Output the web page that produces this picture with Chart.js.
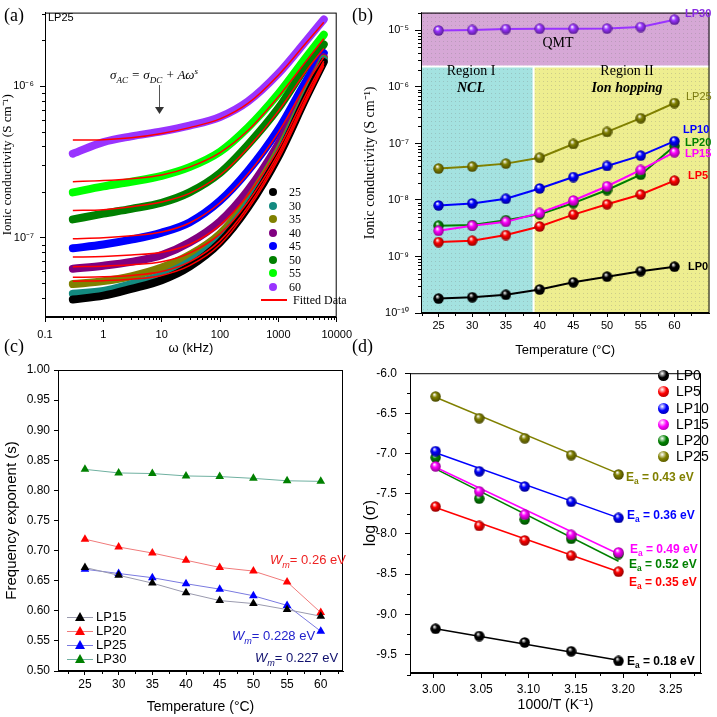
<!DOCTYPE html>
<html>
<head>
<meta charset="utf-8">
<script src="https://cdn.jsdelivr.net/npm/chart.js@4.4.1/dist/chart.umd.min.js"></script>
<style>
body { margin: 0; background: #fff; }
#wrap { position: relative; width: 717px; height: 717px; overflow: hidden; font-family: "Liberation Sans", Arial, sans-serif; color: #000; }
canvas { position: absolute; }
.t { position: absolute; white-space: nowrap; line-height: 1; }
.serif { font-family: "Liberation Serif", "Times New Roman", serif; }
.dot { position: absolute; width: 8px; height: 8px; border-radius: 50%; }
.ball { position: absolute; width: 11px; height: 11px; border-radius: 50%; }
.tri { position: absolute; width: 10px; height: 9px; clip-path: polygon(50% 0, 100% 100%, 0 100%); }
.ln { position: absolute; height: 1px; }
sub, sup { font-size: 70%; }
</style>
</head>
<body>
<div id="wrap">
  <canvas id="cA" width="358" height="358" style="left:0;top:0"></canvas>
  <canvas id="cB" width="359" height="358" style="left:358px;top:0"></canvas>
  <canvas id="cC" width="358" height="359" style="left:0;top:358px"></canvas>
  <canvas id="cD" width="359" height="359" style="left:358px;top:358px"></canvas>

  <!-- panel letters -->
  <div class="t serif" style="left:4px;top:6px;font-size:18px">(a)</div>
  <div class="t serif" style="left:352px;top:6px;font-size:18px">(b)</div>
  <div class="t serif" style="left:4px;top:337px;font-size:18px">(c)</div>
  <div class="t serif" style="left:352px;top:337px;font-size:18px">(d)</div>

  <!-- (a) annotations -->
  <div class="t" style="left:48px;top:12px;font-size:11px">LP25</div>
  <div class="t serif" style="left:110px;top:67px;font-size:13px;font-style:italic">σ<sub>AC</sub> = σ<sub>DC</sub> + Aω<sup>s</sup></div>
  <div style="position:absolute;left:159px;top:85px;width:1px;height:24px;background:#555"></div>
  <div style="position:absolute;left:155px;top:107px;width:9px;height:7px;background:#333;clip-path:polygon(0 0,100% 0,50% 100%)"></div>
  <div id="legA"></div>

  <!-- (b) annotations -->
  <div class="t serif" style="left:558px;top:36px;font-size:14px;transform:translateX(-50%)">QMT</div>
  <div class="t serif" style="left:471px;top:64px;font-size:14px;transform:translateX(-50%)">Region I</div>
  <div class="t serif" style="left:471px;top:81px;font-size:14px;font-weight:bold;font-style:italic;transform:translateX(-50%)">NCL</div>
  <div class="t serif" style="left:627px;top:64px;font-size:14px;transform:translateX(-50%)">Region II</div>
  <div class="t serif" style="left:627px;top:81px;font-size:14px;font-weight:bold;font-style:italic;transform:translateX(-50%)">Ion hopping</div>
  <div class="t" style="left:685px;top:8px;font-size:11px;font-weight:bold;color:#8a2be2">LP30</div>
  <div class="t" style="left:686px;top:91px;font-size:11px;color:#7a7a10">LP25</div>
  <div class="t" style="left:683px;top:124px;font-size:11px;font-weight:bold;color:#0000ff">LP10</div>
  <div class="t" style="left:685px;top:137px;font-size:11px;font-weight:bold;color:#008000">LP20</div>
  <div class="t" style="left:685px;top:148px;font-size:11px;font-weight:bold;color:#ff00ff">LP15</div>
  <div class="t" style="left:688px;top:170px;font-size:11px;font-weight:bold;color:#ff0000">LP5</div>
  <div class="t" style="left:688px;top:261px;font-size:11px;font-weight:bold;color:#000">LP0</div>

  <!-- (c) annotations -->
  <div id="legC"></div>
  <div class="t" style="left:270px;top:553px;font-size:13px;color:#ee2222"><i>W<sub>m</sub></i>= 0.26 eV</div>
  <div class="t" style="left:232px;top:629px;font-size:13px;color:#2222cc"><i>W<sub>m</sub></i>= 0.228 eV</div>
  <div class="t" style="left:255px;top:651px;font-size:13px;color:#10106e"><i>W<sub>m</sub></i>= 0.227 eV</div>

  <!-- (d) annotations -->
  <div id="legD"></div>
  <div class="t" style="left:626px;top:471px;font-size:12px;font-weight:bold;color:#808000">E<sub>a</sub> = 0.43 eV</div>
  <div class="t" style="left:627px;top:509px;font-size:12px;font-weight:bold;color:#0000ff">E<sub>a</sub> = 0.36 eV</div>
  <div class="t" style="left:630px;top:543px;font-size:12px;font-weight:bold;color:#ff00ff">E<sub>a</sub> = 0.49 eV</div>
  <div class="t" style="left:629px;top:558px;font-size:12px;font-weight:bold;color:#008000">E<sub>a</sub> = 0.52 eV</div>
  <div class="t" style="left:629px;top:576px;font-size:12px;font-weight:bold;color:#ff0000">E<sub>a</sub> = 0.35 eV</div>
  <div class="t" style="left:627px;top:655px;font-size:12px;font-weight:bold;color:#000">E<sub>a</sub> = 0.18 eV</div>
</div>

<script>
// ================= DATA =================

// (a) LP25 AC conductivity vs frequency (kHz), per temperature
const omega = [0.3, 1, 3, 10, 30, 100, 300, 1000, 3000, 6000];
const tempLabels = ["25", "30", "35", "40", "45", "50", "55", "60"];
const tempColors = ["#000000", "#138a80", "#808000", "#800080", "#0000ff", "#008000", "#00ff00", "#9933ff"];

const ac25 = [3.91e-8, 4.15e-8, 4.60e-8, 5.24e-8, 6.44e-8, 9.29e-8, 1.58e-7, 3.43e-7, 8.39e-7, 1.44e-6];
const ac30 = [4.27e-8, 4.46e-8, 4.95e-8, 5.64e-8, 6.93e-8, 9.85e-8, 1.67e-7, 3.58e-7, 8.64e-7, 1.49e-6];
const ac35 = [4.95e-8, 5.17e-8, 5.56e-8, 6.35e-8, 7.68e-8, 1.06e-7, 1.77e-7, 3.74e-7, 8.89e-7, 1.51e-6];
const ac40 = [6.25e-8, 6.54e-8, 6.93e-8, 7.68e-8, 9.29e-8, 1.28e-7, 2.05e-7, 4.15e-7, 9.43e-7, 1.55e-6];
const ac45 = [8.51e-8, 9.02e-8, 9.71e-8, 1.08e-7, 1.26e-7, 1.75e-7, 2.75e-7, 5.17e-7, 1.08e-6, 1.65e-6];
const ac50 = [1.32e-7, 1.44e-7, 1.55e-7, 1.70e-7, 1.99e-7, 2.67e-7, 4.09e-7, 7.14e-7, 1.34e-6, 1.88e-6];
const ac55 = [1.99e-7, 2.18e-7, 2.34e-7, 2.56e-7, 2.92e-7, 3.69e-7, 5.32e-7, 8.89e-7, 1.55e-6, 2.18e-6];
const ac60 = [3.58e-7, 4.27e-7, 4.66e-7, 5.02e-7, 5.48e-7, 6.25e-7, 7.91e-7, 1.21e-6, 1.99e-6, 2.75e-6];

const fit25 = [5.17e-8, 5.21e-8, 5.32e-8, 5.64e-8, 6.54e-8, 9.02e-8, 1.53e-7, 3.28e-7, 7.91e-7, 1.36e-6];
const fit30 = [5.48e-8, 5.52e-8, 5.64e-8, 5.98e-8, 6.93e-8, 9.57e-8, 1.60e-7, 3.43e-7, 8.14e-7, 1.40e-6];
const fit35 = [6.44e-8, 6.49e-8, 6.63e-8, 6.93e-8, 7.91e-8, 1.06e-7, 1.72e-7, 3.58e-7, 8.39e-7, 1.42e-6];
const fit40 = [7.46e-8, 7.51e-8, 7.68e-8, 8.02e-8, 9.02e-8, 1.21e-7, 1.91e-7, 3.85e-7, 8.89e-7, 1.46e-6];
const fit45 = [9.85e-8, 1.00e-7, 1.03e-7, 1.09e-7, 1.25e-7, 1.70e-7, 2.63e-7, 4.95e-7, 1.03e-6, 1.55e-6];
const fit50 = [1.51e-7, 1.53e-7, 1.60e-7, 1.72e-7, 1.96e-7, 2.59e-7, 3.91e-7, 6.83e-7, 1.26e-6, 1.77e-6];
const fit55 = [2.34e-7, 2.38e-7, 2.45e-7, 2.59e-7, 2.92e-7, 3.64e-7, 5.09e-7, 8.51e-7, 1.46e-6, 2.05e-6];
const fit60 = [4.40e-7, 4.43e-7, 4.56e-7, 4.87e-7, 5.32e-7, 6.07e-7, 7.68e-7, 1.18e-6, 1.93e-6, 2.63e-6];

// (b) DC conductivity vs temperature
const tempC = [25, 30, 35, 40, 45, 50, 55, 60];
const condLP0 = [1.8e-10, 1.9e-10, 2.1e-10, 2.6e-10, 3.5e-10, 4.4e-10, 5.5e-10, 6.6e-10];
const condLP5 = [1.8e-9, 1.9e-9, 2.4e-9, 3.4e-9, 5.5e-9, 8.4e-9, 1.25e-8, 2.2e-8];
const condLP10 = [8.0e-9, 8.7e-9, 1.05e-8, 1.6e-8, 2.55e-8, 4.0e-8, 6.1e-8, 1.1e-7];
const condLP15 = [2.85e-9, 3.5e-9, 4.1e-9, 5.9e-9, 9.8e-9, 1.75e-8, 3.4e-8, 7.0e-8];
const condLP20 = [3.5e-9, 3.6e-9, 4.4e-9, 5.6e-9, 8.8e-9, 1.5e-8, 2.8e-8, 9.0e-8];
const condLP25 = [3.6e-8, 3.9e-8, 4.4e-8, 5.6e-8, 9.8e-8, 1.6e-7, 2.8e-7, 5.2e-7];
const condLP30 = [1.0e-5, 1.02e-5, 1.06e-5, 1.07e-5, 1.07e-5, 1.08e-5, 1.15e-5, 1.55e-5];
const regionSplitTemp = 39.1;   // Region I / Region II boundary
const qmtFloor = 2.3e-6;        // lower edge of the QMT band

// (c) frequency exponent s vs temperature
const expLP15 = [0.672, 0.659, 0.646, 0.630, 0.617, 0.612, 0.602, 0.591];
const expLP20 = [0.719, 0.706, 0.696, 0.684, 0.672, 0.666, 0.648, 0.597];
const expLP25 = [0.669, 0.662, 0.655, 0.645, 0.636, 0.625, 0.609, 0.566];
const expLP30 = [0.835, 0.829, 0.828, 0.824, 0.823, 0.820, 0.816, 0.815];

// (d) Arrhenius plot (60 -> 40 degC)
const invT = [3.002, 3.048, 3.096, 3.145, 3.195];
const logLP0 = [-9.18, -9.27, -9.35, -9.46, -9.58];
const logLP5 = [-7.66, -7.90, -8.08, -8.27, -8.47];
const logLP10 = [-6.97, -7.22, -7.41, -7.60, -7.80];
const logLP15 = [-7.16, -7.47, -7.76, -8.01, -8.23];
const logLP20 = [-7.05, -7.56, -7.82, -8.06, -8.25];
const logLP25 = [-6.29, -6.56, -6.81, -7.02, -7.26];
const fitX = [3.002, 3.195];
const lineLP0 = [-9.18, -9.57];
const lineLP5 = [-7.67, -8.47];
const lineLP10 = [-6.99, -7.80];
const lineLP15 = [-7.17, -8.25];
const lineLP20 = [-7.19, -8.34];
const lineLP25 = [-6.30, -7.25];

// ================= HELPERS =================
Chart.defaults.font.family = '"Liberation Sans", Arial, sans-serif';
Chart.defaults.color = "#000";
Chart.defaults.animation = false;

const SUP = { "-": "⁻", "0": "⁰", "1": "¹", "2": "²", "3": "³", "4": "⁴", "5": "⁵", "6": "⁶", "7": "⁷", "8": "⁸", "9": "⁹" };
function powLabel(v) {
    const e = Math.round(Math.log10(v));
    return "10" + String(e).split("").map(c => SUP[c]).join("");
}
function pts(xs, ys) { return xs.map((x, i) => ({ x, y: ys[i] })); }

function logMinors(lo, hi) {
    const out = [];
    for (let e = Math.floor(Math.log10(lo)); e <= Math.ceil(Math.log10(hi)); e++) {
        for (let m = 2; m <= 9; m++) {
            const v = m * Math.pow(10, e);
            if (v > lo && v < hi) out.push(v);
        }
    }
    return out;
}
function steps(a, b, s) { const o = []; for (let v = a; v <= b + 1e-9; v += s) o.push(+v.toFixed(4)); return o; }

// sphere marker used in (b) and (d)
function sphere(color, d) {
    const c = document.createElement("canvas");
    c.width = c.height = d;
    const g = c.getContext("2d");
    const r = d / 2;
    const grd = g.createRadialGradient(r * 0.75, r * 0.6, r * 0.05, r, r, r);
    grd.addColorStop(0, "#ffffff");
    grd.addColorStop(0.4, color);
    grd.addColorStop(1, color === "#000000" ? "#000" : shade(color));
    g.fillStyle = grd;
    g.beginPath();
    g.arc(r, r, r - 0.3, 0, Math.PI * 2);
    g.fill();
    return c;
}
function shade(hex) {
    const n = parseInt(hex.slice(1), 16);
    const f = v => Math.round(v * 0.55);
    return `rgb(${f(n >> 16)},${f((n >> 8) & 255)},${f(n & 255)})`;
}

// faint dotted fill like the shaded regions in (b)
function dotted(ctx, base) {
    const p = document.createElement("canvas");
    p.width = p.height = 4;
    const g = p.getContext("2d");
    g.fillStyle = base;
    g.fillRect(0, 0, 4, 4);
    g.fillStyle = "rgba(120,120,120,0.28)";
    g.fillRect(1, 1, 1, 1);
    return ctx.createPattern(p, "repeat");
}

// frame + minor ticks + optional background bands
function framePlugin(xMinor, yMinor, bands) {
    return {
        id: "frame",
        beforeDatasetsDraw(chart) {
            if (bands) bands(chart);
        },
        afterDraw(chart) {
            const { ctx, chartArea: a, scales } = chart;
            ctx.save();
            ctx.strokeStyle = "#000";
            ctx.lineWidth = 1;
            ctx.strokeRect(a.left + 0.5, a.top + 0.5, a.right - a.left - 1, a.bottom - a.top - 1);
            ctx.beginPath();
            xMinor.forEach(v => {
                const p = Math.round(scales.x.getPixelForValue(v)) + 0.5;
                ctx.moveTo(p, a.bottom); ctx.lineTo(p, a.bottom + 3);
            });
            yMinor.forEach(v => {
                const p = Math.round(scales.y.getPixelForValue(v)) + 0.5;
                ctx.moveTo(a.left, p); ctx.lineTo(a.left - 3, p);
            });
            ctx.stroke();
            ctx.restore();
        }
    };
}

function axis(extra) {
    return Object.assign({
        grid: { drawOnChartArea: false, color: "#000", tickLength: 5, tickWidth: 1 },
        border: { color: "#000", width: 1 }
    }, extra);
}

// ================= (a) =================
function drawA() {
    const acData = [ac25, ac30, ac35, ac40, ac45, ac50, ac55, ac60];
    const fits = [fit25, fit30, fit35, fit40, fit45, fit50, fit55, fit60];
    const datasets = [];
    fits.forEach(f => datasets.push({
        data: pts(omega, f), borderColor: "#ff0000", borderWidth: 1.5,
        pointRadius: 0, cubicInterpolationMode: "monotone"
    }));
    acData.forEach((d, i) => datasets.push({
        data: pts(omega, d), borderColor: tempColors[i], borderWidth: 8,
        borderCapStyle: "round", pointRadius: 0, cubicInterpolationMode: "monotone"
    }));

    const yMin = 3.1e-8, yMax = 3.05e-6;
    new Chart(document.getElementById("cA"), {
        type: "line",
        data: { datasets },
        options: {
            responsive: false,
            layout: { padding: { top: 4, right: 15, left: 0, bottom: 0 } },
            plugins: { legend: { display: false }, tooltip: { enabled: false } },
            scales: {
                x: axis({
                    type: "logarithmic", min: 0.1, max: 10000,
                    afterBuildTicks: s => { s.ticks = [0.1, 1, 10, 100, 1000, 10000].map(v => ({ value: v })); },
                    afterFit: s => { s.height = 41; },
                    ticks: { font: { size: 11 }, padding: 6, maxRotation: 0, callback: v => String(v) },
                    title: { display: true, text: "ω (kHz)", font: { size: 13 }, padding: { top: 0, bottom: 2 } }
                }),
                y: axis({
                    type: "logarithmic", min: yMin, max: yMax,
                    afterBuildTicks: s => { s.ticks = [1e-7, 1e-6].map(v => ({ value: v })); },
                    afterFit: s => { s.width = 45; },
                    ticks: { font: { size: 11 }, padding: 6, callback: v => powLabel(v) },
                    title: {
                        display: true, text: "Ionic conductivity (S cm⁻¹)",
                        font: { size: 13, family: '"Liberation Serif", serif' }, padding: { top: 0, bottom: 0 }
                    }
                })
            }
        },
        plugins: [framePlugin(logMinors(0.1, 10000), logMinors(yMin, yMax))]
    });

    // legend
    const leg = document.getElementById("legA");
    const rows = [192, 206, 219, 233, 246, 260, 273, 287];
    let html = "";
    tempLabels.forEach((t, i) => {
        html += `<div class="dot" style="left:269px;top:${rows[i] - 4}px;background:${tempColors[i]}"></div>`;
        html += `<div class="t serif" style="left:289px;top:${rows[i] - 6}px;font-size:12px">${t}</div>`;
    });
    html += `<div style="position:absolute;left:261px;top:299px;width:26px;height:2px;background:#ff0000"></div>`;
    html += `<div class="t serif" style="left:293px;top:294px;font-size:12px">Fitted Data</div>`;
    leg.innerHTML = html;
}

// ================= (b) =================
function drawB() {
    const series = [
        ["LP0", condLP0, "#000000"], ["LP5", condLP5, "#ff0000"], ["LP10", condLP10, "#0000ff"],
        ["LP15", condLP15, "#ff00ff"], ["LP20", condLP20, "#008000"], ["LP25", condLP25, "#808000"],
        ["LP30", condLP30, "#9933ff"]
    ];
    const datasets = series.map(([name, d, c]) => ({
        label: name, data: pts(tempC, d), borderColor: c, borderWidth: 2,
        pointStyle: sphere(c, 11), pointRadius: 5.5
    }));

    const yMin = 1e-10, yMax = 2.07e-5;
    const bands = chart => {
        const { ctx, chartArea: a, scales } = chart;
        const yq = scales.y.getPixelForValue(qmtFloor);
        const xr = scales.x.getPixelForValue(regionSplitTemp);
        ctx.save();
        ctx.fillStyle = dotted(ctx, "#d6a8d6");
        ctx.fillRect(a.left, a.top, a.right - a.left, yq - a.top);
        ctx.fillStyle = dotted(ctx, "#a4e2e0");
        ctx.fillRect(a.left, yq, xr - a.left, a.bottom - yq);
        ctx.fillStyle = dotted(ctx, "#eeee90");
        ctx.fillRect(xr, yq, a.right - xr, a.bottom - yq);
        ctx.strokeStyle = "#ffffff";
        ctx.lineWidth = 2;
        ctx.beginPath();
        ctx.moveTo(a.left, yq); ctx.lineTo(a.right, yq);
        ctx.moveTo(xr, yq); ctx.lineTo(xr, a.bottom);
        ctx.stroke();
        ctx.restore();
    };

    new Chart(document.getElementById("cB"), {
        type: "line",
        data: { datasets },
        options: {
            responsive: false,
            layout: { padding: { top: 5, right: 4, left: 0, bottom: 0 } },
            plugins: { legend: { display: false }, tooltip: { enabled: false } },
            scales: {
                x: axis({
                    type: "linear", min: 22.4, max: 65.2,
                    afterBuildTicks: s => { s.ticks = tempC.map(v => ({ value: v })); },
                    afterFit: s => { s.height = 45; },
                    grid: { drawOnChartArea: false, color: "#000", tickLength: 4 },
                    ticks: { font: { size: 11 }, padding: 2 },
                    title: { display: true, text: "Temperature (°C)", font: { size: 13 }, padding: { top: 0, bottom: 0 } }
                }),
                y: axis({
                    type: "logarithmic", min: yMin, max: yMax,
                    afterBuildTicks: s => { s.ticks = [1e-10, 1e-9, 1e-8, 1e-7, 1e-6, 1e-5].map(v => ({ value: v })); },
                    afterFit: s => { s.width = 63; },
                    grid: { drawOnChartArea: false, color: "#000", tickLength: 6 },
                    ticks: { font: { size: 11 }, padding: 6, callback: v => powLabel(v) },
                    title: {
                        display: true, text: "Ionic conductivity (S cm⁻¹)",
                        font: { size: 14, family: '"Liberation Serif", serif' }, padding: { top: 4, bottom: 0 }
                    }
                })
            }
        },
        plugins: [framePlugin(steps(22.5, 62.5, 5), logMinors(yMin, yMax), bands)]
    });
}

// ================= (c) =================
function drawC() {
    const series = [
        ["LP15", expLP15, "#000000", "#9a9aae"], ["LP20", expLP20, "#ff0000", "#f07a7a"],
        ["LP25", expLP25, "#0000ff", "#7a7ae0"], ["LP30", expLP30, "#008000", "#6fb0a0"]
    ];
    const datasets = series.map(([name, d, c, lc]) => ({
        label: name, data: pts(tempC, d), borderColor: lc, borderWidth: 1,
        pointStyle: "triangle", pointRadius: 5, pointBackgroundColor: c, pointBorderColor: c, pointBorderWidth: 0
    }));

    new Chart(document.getElementById("cC"), {
        type: "line",
        data: { datasets },
        options: {
            responsive: false,
            layout: { padding: { top: 12, right: 15, left: 0, bottom: 0 } },
            plugins: { legend: { display: false }, tooltip: { enabled: false } },
            scales: {
                x: axis({
                    type: "linear", min: 21, max: 63.3,
                    afterBuildTicks: s => { s.ticks = tempC.map(v => ({ value: v })); },
                    afterFit: s => { s.height = 46; },
                    grid: { drawOnChartArea: false, color: "#000", tickLength: 4 },
                    ticks: { font: { size: 12 }, padding: 2 },
                    title: { display: true, text: "Temperature (°C)", font: { size: 14 }, padding: { top: 0, bottom: 1 } }
                }),
                y: axis({
                    type: "linear", min: 0.5, max: 1.0,
                    afterBuildTicks: s => { s.ticks = steps(0.5, 1.0, 0.05).map(v => ({ value: v })); },
                    afterFit: s => { s.width = 58; },
                    grid: { drawOnChartArea: false, color: "#000", tickLength: 4 },
                    ticks: { font: { size: 12 }, padding: 4, callback: v => v.toFixed(2) },
                    title: { display: true, text: "Frequency exponent (s)", font: { size: 15 }, padding: { top: 3, bottom: 0 } }
                })
            }
        },
        plugins: [framePlugin(steps(22.5, 62.5, 5), [])]
    });

    const rows = [617, 631, 645, 659];
    let html = "";
    series.forEach(([name, d, c, lc], i) => {
        html += `<div class="ln" style="left:67px;top:${rows[i]}px;width:26px;background:${lc}"></div>`;
        html += `<div class="tri" style="left:75px;top:${rows[i] - 5}px;background:${c}"></div>`;
        html += `<div class="t" style="left:96px;top:${rows[i] - 7}px;font-size:13px">${name}</div>`;
    });
    document.getElementById("legC").innerHTML = html;
}

// ================= (d) =================
function drawD() {
    const series = [
        ["LP0", logLP0, lineLP0, "#000000"], ["LP5", logLP5, lineLP5, "#ff0000"],
        ["LP10", logLP10, lineLP10, "#0000ff"], ["LP15", logLP15, lineLP15, "#ff00ff"],
        ["LP20", logLP20, lineLP20, "#008000"], ["LP25", logLP25, lineLP25, "#808000"]
    ];
    const datasets = [];
    series.forEach(([name, d, f, c]) => {
        datasets.push({
            label: name, data: pts(invT, d), showLine: false,
            pointStyle: sphere(c, 11), pointRadius: 5.5
        });
        datasets.push({
            data: pts(fitX, f), borderColor: c, borderWidth: 1.5, pointRadius: 0
        });
    });

    new Chart(document.getElementById("cD"), {
        type: "line",
        data: { datasets },
        options: {
            responsive: false,
            layout: { padding: { top: 8, right: 16, left: 0, bottom: 0 } },
            plugins: { legend: { display: false }, tooltip: { enabled: false } },
            scales: {
                x: axis({
                    type: "linear", min: 2.975, max: 3.282,
                    afterBuildTicks: s => { s.ticks = steps(3.0, 3.25, 0.05).map(v => ({ value: v })); },
                    afterFit: s => { s.height = 44; },
                    ticks: { font: { size: 12 }, padding: 4, callback: v => v.toFixed(2) },
                    title: { display: true, text: "1000/T (K⁻¹)", font: { size: 14 }, padding: { top: 0, bottom: 3 } }
                }),
                y: axis({
                    type: "linear", min: -9.73, max: -6.0,
                    afterBuildTicks: s => { s.ticks = steps(-9.5, -6.0, 0.5).map(v => ({ value: v })); },
                    afterFit: s => { s.width = 52; },
                    ticks: { font: { size: 12 }, padding: 8, callback: v => v.toFixed(1) },
                    title: { display: true, text: "log (σ)", font: { size: 16 }, padding: { top: 3, bottom: 0 } }
                })
            }
        },
        plugins: [framePlugin(steps(2.975, 3.275, 0.05), steps(-9.75, -6.25, 0.5))]
    });

    const rows = [375, 391, 408, 424, 440, 456];
    let html = "";
    series.forEach(([name, d, f, c], i) => {
        html += `<div class="ball" style="left:658px;top:${rows[i] - 5}px;background:radial-gradient(circle at 38% 32%, #fff 0, ${c} 42%, ${c === "#000000" ? "#000" : shade(c)} 100%)"></div>`;
        html += `<div class="t" style="left:676px;top:${rows[i] - 7}px;font-size:14px">${name}</div>`;
    });
    document.getElementById("legD").innerHTML = html;
}

drawA();
drawB();
drawC();
drawD();
</script>
</body>
</html>
